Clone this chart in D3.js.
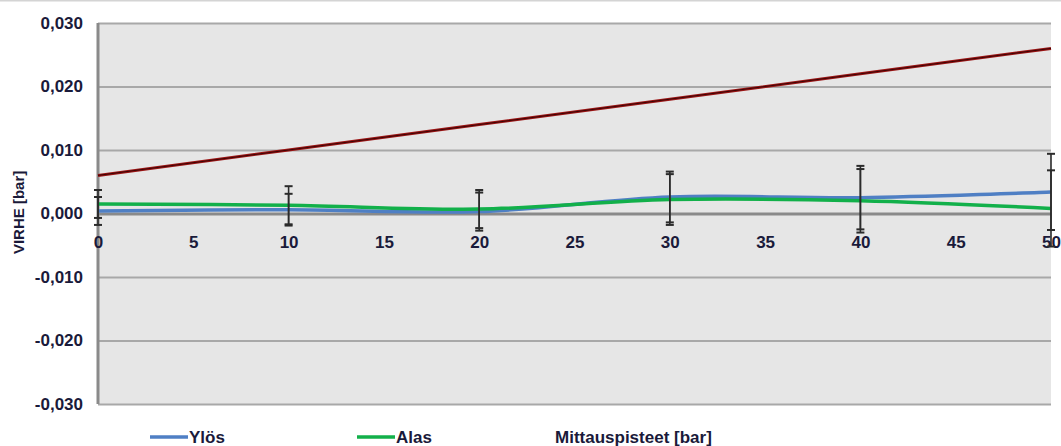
<!DOCTYPE html>
<html><head><meta charset="utf-8">
<script src="https://cdn.jsdelivr.net/npm/d3@7"></script>
<style>
html,body{margin:0;padding:0;background:#fff;}
svg{display:block;}
</style></head>
<body><svg id="c" width="1061" height="446"></svg>
<script>
const points = [0, 10, 20, 30, 40, 50];
const ylos = [0.0004, 0.0006, 0.0003, 0.0026, 0.0025, 0.0034];
const alas = [0.0015, 0.0013, 0.0007, 0.0022, 0.0020, 0.0008];
const ylosErr = [0.0022, 0.0025, 0.0030, 0.0040, 0.0050, 0.0060];
const alasErr = [0.0022, 0.0030, 0.0030, 0.0040, 0.0050, 0.0060];
const limit = [0.006, 0.010, 0.014, 0.018, 0.022, 0.026];
const xTicks = [0, 5, 10, 15, 20, 25, 30, 35, 40, 45, 50];
const yTicks = [-0.03, -0.02, -0.01, 0, 0.01, 0.02, 0.03];
const seriesNames = ["Ylös", "Alas"];
const xTitle = "Mittauspisteet [bar]";
const yTitle = "VIRHE [bar]";

const svg = d3.select("#c");
const W = 1061, H = 446;
const m = {l: 98, r: 10, t: 23, b: 42};
const x = d3.scaleLinear().domain([0, 50]).range([m.l, W - m.r]);
const y = d3.scaleLinear().domain([-0.03, 0.03]).range([H - m.b, m.t]);
const loc = d3.formatLocale({decimal: ",", thousands: " ", grouping: [3], currency: ["", ""], minus: "-"});
const fmt = loc.format(".3f");

// top border of image
svg.append("line").attr("x1", 0).attr("x2", W).attr("y1", 0.5).attr("y2", 0.5)
  .attr("stroke", "#d4d4d4").attr("stroke-width", 2);

// plot background
svg.append("rect").attr("x", x(0)).attr("y", y(0.03)).attr("width", x(50) - x(0))
  .attr("height", y(-0.03) - y(0.03)).attr("fill", "#e6e6e6");

// gridlines
const yAxis = d3.axisLeft(y).tickValues(yTicks).tickSize(-(x(50) - x(0))).tickFormat(fmt).tickPadding(15);
const gy = svg.append("g").attr("transform", `translate(${x(0)},0)`).call(yAxis);
gy.select(".domain").remove();
gy.selectAll(".tick line").attr("stroke", d => d === 0 ? "#8a8a8a" : "#a8a8a8")
  .attr("stroke-width", d => d === 0 ? 3 : 2);
gy.selectAll(".tick text").attr("font-family", "'Liberation Sans', Arial, sans-serif")
  .attr("font-weight", "bold").attr("font-size", 17).attr("fill", "#1a1a3a");

// left axis line
svg.append("line").attr("x1", x(0)).attr("x2", x(0)).attr("y1", y(0.03)).attr("y2", y(-0.03))
  .attr("stroke", "#8a8a8a").attr("stroke-width", 3);

// x tick labels below zero line
const xAxis = d3.axisBottom(x).tickValues(xTicks).tickSize(0).tickPadding(22).tickFormat(d3.format("d"));
const gx = svg.append("g").attr("transform", `translate(0,${y(0)})`).call(xAxis);
gx.select(".domain").remove();
gx.selectAll(".tick text").attr("font-family", "'Liberation Sans', Arial, sans-serif")
  .attr("font-weight", "bold").attr("font-size", 17).attr("fill", "#1a1a3a");

// limit line
const lineStraight = d3.line().x((d, i) => x(points[i])).y(d => y(d));
svg.append("path").datum(limit).attr("d", lineStraight).attr("fill", "none")
  .attr("stroke", "#9a1414").attr("stroke-width", 3);
svg.append("path").datum(limit).attr("d", lineStraight).attr("fill", "none")
  .attr("stroke", "#3a0505").attr("stroke-width", 1);

// smooth series
const lineSmooth = d3.line().x((d, i) => x(points[i])).y(d => y(d)).curve(d3.curveCatmullRom.alpha(0.5));
svg.append("path").datum(ylos).attr("d", lineSmooth).attr("fill", "none")
  .attr("stroke", "#4f7fc4").attr("stroke-width", 3.5);
svg.append("path").datum(alas).attr("d", lineSmooth).attr("fill", "none")
  .attr("stroke", "#12b04a").attr("stroke-width", 3.5);

// error bars
function errBars(vals, errs) {
  const g = svg.append("g").attr("stroke", "#2b2b2b").attr("stroke-width", 1.6);
  vals.forEach((v, i) => {
    const cx = x(points[i]);
    g.append("line").attr("x1", cx).attr("x2", cx).attr("y1", y(v + errs[i])).attr("y2", y(v - errs[i]));
    [v + errs[i], v - errs[i]].forEach(e => {
      g.append("line").attr("x1", cx - 4).attr("x2", cx + 4).attr("y1", y(e)).attr("y2", y(e)).attr("stroke-width", 2);
    });
  });
}
errBars(ylos, ylosErr);
errBars(alas, alasErr);

// y title
svg.append("text").attr("transform", `translate(24,${(y(0.012) + y(-0.006)) / 2 + 18}) rotate(-90)`)
  .attr("text-anchor", "middle").attr("font-family", "'Liberation Sans', Arial, sans-serif")
  .attr("font-weight", "bold").attr("font-size", 15).attr("fill", "#1a1a3a").text(yTitle);

// legend
const legY = 437;
const legColors = ["#4f7fc4", "#12b04a"];
const legX = [150, 357];
seriesNames.forEach((n, i) => {
  svg.append("line").attr("x1", legX[i]).attr("x2", legX[i] + 38).attr("y1", legY).attr("y2", legY)
    .attr("stroke", legColors[i]).attr("stroke-width", 3.5);
  svg.append("text").attr("x", legX[i] + 39).attr("y", legY + 6)
    .attr("font-family", "'Liberation Sans Narrow', 'Liberation Sans', Arial, sans-serif")
    .attr("font-weight", "bold").attr("font-size", 17).attr("fill", "#1a1a3a").text(n);
});
svg.append("text").attr("x", 555).attr("y", legY + 6)
  .attr("font-family", "'Liberation Sans Narrow', 'Liberation Sans', Arial, sans-serif")
  .attr("font-weight", "bold").attr("font-size", 17).attr("fill", "#1a1a3a").text(xTitle);
</script></body></html>
